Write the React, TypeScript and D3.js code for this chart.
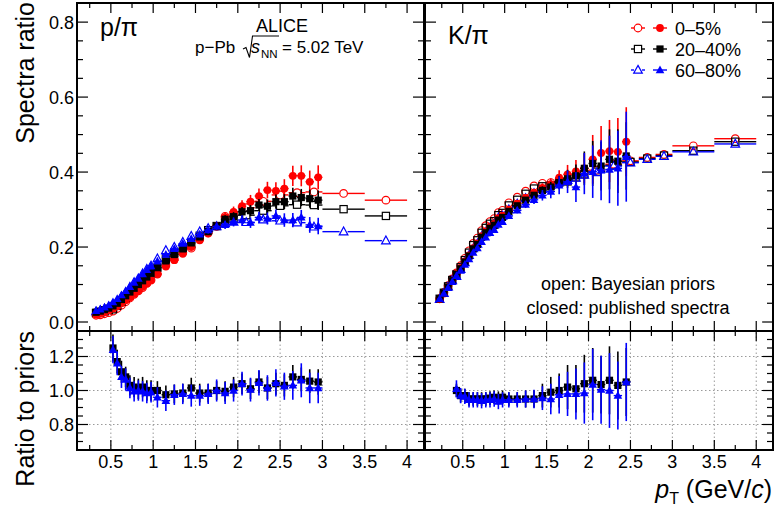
import React from "react";
import * as d3 from "d3";

const FONT = "'Liberation Sans', Arial, Helvetica, sans-serif";
const RED = "#ff0000";
const BLACK = "#000000";
const BLUE = "#0000ff";

// legend labels
const centralities = ["0–5%", "20–40%", "60–80%"];

// ---------------- p/pi ----------------
// published spectra binning (closed)
const ppiClosedEdges = [0.3, 0.35, 0.4, 0.45, 0.5, 0.55, 0.6, 0.65, 0.7, 0.75, 0.8, 0.85, 0.9, 0.95, 1.0,
  1.1, 1.2, 1.3, 1.4, 1.5, 1.6, 1.7, 1.8, 1.9, 2.0, 2.1, 2.2, 2.3, 2.4, 2.5, 2.6, 2.7, 2.8, 2.9, 3.0];
const ppiClosed0_5 = [0.020, 0.022, 0.026, 0.031, 0.036, 0.042, 0.050, 0.058, 0.066, 0.075, 0.084, 0.094, 0.103, 0.112,
  0.128, 0.148, 0.165, 0.182, 0.200, 0.218, 0.236, 0.256, 0.280, 0.294,
  0.309, 0.321, 0.336, 0.352, 0.350, 0.356, 0.390, 0.390, 0.374, 0.386];
const ppiClosed0_5Err = [0.004, 0.004, 0.004, 0.004, 0.004, 0.004, 0.004, 0.004, 0.004, 0.004, 0.004, 0.004, 0.004, 0.004,
  0.006, 0.006, 0.007, 0.007, 0.008, 0.009, 0.010, 0.011, 0.013, 0.014,
  0.016, 0.018, 0.020, 0.022, 0.023, 0.025, 0.027, 0.028, 0.030, 0.032];
const ppiClosed20_40 = [0.026, 0.029, 0.033, 0.037, 0.043, 0.050, 0.060, 0.070, 0.080, 0.090, 0.100, 0.110, 0.120, 0.130,
  0.145, 0.163, 0.180, 0.195, 0.211, 0.227, 0.241, 0.256, 0.274, 0.281,
  0.294, 0.297, 0.312, 0.309, 0.321, 0.321, 0.336, 0.332, 0.329, 0.325];
const ppiClosed20_40Err = [0.003, 0.003, 0.003, 0.003, 0.003, 0.003, 0.003, 0.003, 0.003, 0.003, 0.003, 0.003, 0.003, 0.003,
  0.005, 0.005, 0.006, 0.006, 0.007, 0.008, 0.009, 0.010, 0.011, 0.012,
  0.013, 0.015, 0.016, 0.018, 0.019, 0.020, 0.022, 0.023, 0.024, 0.026];
const ppiClosed60_80 = [0.030, 0.034, 0.039, 0.045, 0.053, 0.062, 0.072, 0.083, 0.094, 0.105, 0.116, 0.128, 0.139, 0.149,
  0.162, 0.180, 0.195, 0.209, 0.222, 0.234, 0.245, 0.255, 0.259, 0.267,
  0.272, 0.265, 0.279, 0.276, 0.283, 0.272, 0.272, 0.279, 0.259, 0.256];
const ppiClosed60_80Err = [0.003, 0.003, 0.003, 0.003, 0.003, 0.003, 0.003, 0.003, 0.003, 0.003, 0.003, 0.003, 0.003, 0.003,
  0.005, 0.005, 0.006, 0.006, 0.007, 0.008, 0.009, 0.010, 0.011, 0.012,
  0.013, 0.014, 0.015, 0.016, 0.017, 0.018, 0.019, 0.020, 0.021, 0.022];

// Bayesian priors binning (open)
const ppiOpenEdges = [0.3, 0.35, 0.4, 0.45, 0.5, 0.55, 0.6, 0.65, 0.7, 0.75, 0.8, 0.85, 0.9, 0.95, 1.0,
  1.1, 1.2, 1.3, 1.4, 1.5, 1.6, 1.7, 1.8, 1.9, 2.0, 2.2, 2.4, 2.6, 2.8, 3.0, 3.5, 4.0];
const ppiOpen0_5 = [0.018, 0.019, 0.022, 0.025, 0.029, 0.036, 0.045, 0.054, 0.064, 0.074, 0.083, 0.092, 0.103, 0.112,
  0.128, 0.152, 0.168, 0.185, 0.197, 0.221, 0.240, 0.255, 0.282, 0.290,
  0.305, 0.322, 0.339, 0.345, 0.347, 0.343, 0.325];
const ppiOpen20_40 = [0.024, 0.026, 0.029, 0.032, 0.034, 0.043, 0.054, 0.065, 0.078, 0.088, 0.099, 0.108, 0.120, 0.130,
  0.145, 0.167, 0.184, 0.198, 0.208, 0.230, 0.245, 0.256, 0.271, 0.275,
  0.285, 0.297, 0.310, 0.313, 0.312, 0.301, 0.283];
const ppiOpen60_80 = [0.028, 0.031, 0.035, 0.039, 0.043, 0.053, 0.067, 0.078, 0.093, 0.106, 0.116, 0.129, 0.141, 0.150,
  0.169, 0.191, 0.200, 0.213, 0.229, 0.241, 0.250, 0.255, 0.263, 0.267,
  0.266, 0.273, 0.270, 0.265, 0.254, 0.241, 0.217];

// ratio published / priors
const ppiRatioEdges = [0.5, 0.55, 0.6, 0.65, 0.7, 0.75, 0.8, 0.85, 0.9, 0.95, 1.0,
  1.1, 1.2, 1.3, 1.4, 1.5, 1.6, 1.7, 1.8, 1.9, 2.0, 2.1, 2.2, 2.3, 2.4, 2.5, 2.6, 2.7, 2.8, 2.9, 3.0];
const ppiRatio20_40 = [1.25, 1.17, 1.11, 1.08, 1.03, 1.02, 1.01, 1.02, 1.00, 1.00,
  1.00, 0.975, 0.98, 0.985, 1.015, 0.985, 0.985, 1.00, 0.995, 1.02,
  1.04, 1.01, 1.05, 1.015, 1.04, 1.03, 1.08, 1.065, 1.055, 1.05];
const ppiRatio20_40Err = [0.08, 0.07, 0.065, 0.06, 0.06, 0.06, 0.06, 0.06, 0.06, 0.06,
  0.055, 0.055, 0.055, 0.055, 0.06, 0.055, 0.055, 0.055, 0.06, 0.06,
  0.06, 0.06, 0.065, 0.065, 0.065, 0.065, 0.07, 0.07, 0.07, 0.075];
const ppiRatio60_80 = [1.24, 1.16, 1.08, 1.065, 1.015, 0.995, 1.00, 0.995, 0.985, 0.99,
  0.96, 0.94, 0.975, 0.98, 0.97, 0.97, 0.98, 1.00, 0.985, 1.00,
  1.04, 1.005, 1.045, 1.015, 1.045, 1.025, 1.03, 1.06, 1.015, 1.015];
const ppiRatio60_80Err = [0.08, 0.07, 0.065, 0.065, 0.06, 0.06, 0.06, 0.06, 0.06, 0.06,
  0.06, 0.06, 0.06, 0.06, 0.065, 0.06, 0.06, 0.065, 0.065, 0.065,
  0.07, 0.07, 0.075, 0.075, 0.08, 0.08, 0.085, 0.1, 0.09, 0.09];

// ---------------- K/pi ----------------
const kpiClosedEdges = [0.2, 0.25, 0.3, 0.35, 0.4, 0.45, 0.5, 0.55, 0.6, 0.65, 0.7, 0.75, 0.8, 0.85, 0.9, 0.95, 1.0,
  1.1, 1.2, 1.3, 1.4, 1.5, 1.6, 1.7, 1.8, 1.9, 2.0, 2.1, 2.2, 2.3, 2.4, 2.5];
const kpiClosed0_5 = [0.061, 0.076, 0.093, 0.110, 0.128, 0.144, 0.162, 0.178, 0.197, 0.210, 0.229, 0.241, 0.254, 0.262, 0.277, 0.284,
  0.300, 0.316, 0.331, 0.345, 0.358, 0.368, 0.385, 0.394, 0.402, 0.410, 0.434, 0.451, 0.456, 0.454, 0.481];
const kpiClosed0_5Err = [0.004, 0.004, 0.004, 0.004, 0.004, 0.004, 0.004, 0.004, 0.004, 0.004, 0.004, 0.004, 0.004, 0.004, 0.004, 0.004,
  0.007, 0.007, 0.007, 0.008, 0.012, 0.015, 0.02, 0.025, 0.03, 0.04, 0.065, 0.072, 0.083, 0.09, 0.092];
const kpiClosed20_40 = [0.062, 0.077, 0.093, 0.110, 0.127, 0.142, 0.160, 0.176, 0.195, 0.207, 0.226, 0.238, 0.250, 0.258, 0.272, 0.279,
  0.295, 0.310, 0.325, 0.338, 0.351, 0.360, 0.372, 0.382, 0.390, 0.410, 0.423, 0.416, 0.434, 0.429, 0.443];
const kpiClosed20_40Err = [0.003, 0.003, 0.003, 0.003, 0.003, 0.003, 0.003, 0.003, 0.003, 0.003, 0.003, 0.003, 0.003, 0.003, 0.003, 0.003,
  0.006, 0.006, 0.007, 0.008, 0.011, 0.014, 0.018, 0.024, 0.03, 0.045, 0.06, 0.065, 0.08, 0.085, 0.09];
const kpiClosed60_80 = [0.062, 0.076, 0.091, 0.107, 0.123, 0.137, 0.153, 0.168, 0.185, 0.197, 0.214, 0.226, 0.238, 0.246, 0.260, 0.267,
  0.283, 0.298, 0.313, 0.326, 0.338, 0.348, 0.365, 0.374, 0.360, 0.396, 0.401, 0.405, 0.407, 0.410, 0.441];
const kpiClosed60_80Err = [0.004, 0.004, 0.004, 0.004, 0.004, 0.004, 0.004, 0.004, 0.004, 0.004, 0.004, 0.004, 0.004, 0.004, 0.004, 0.004,
  0.007, 0.008, 0.009, 0.011, 0.014, 0.018, 0.024, 0.03, 0.04, 0.055, 0.07, 0.08, 0.09, 0.1, 0.12];

const kpiOpenEdges = [0.2, 0.25, 0.3, 0.35, 0.4, 0.45, 0.5, 0.55, 0.6, 0.65, 0.7, 0.75, 0.8, 0.85, 0.9, 0.95, 1.0,
  1.1, 1.2, 1.3, 1.4, 1.5, 1.6, 1.7, 1.8, 1.9, 2.0, 2.2, 2.4, 2.6, 2.8, 3.0, 3.5, 4.0];
const kpiOpen0_5 = [0.062, 0.079, 0.097, 0.115, 0.131, 0.150, 0.170, 0.190, 0.210, 0.224, 0.244, 0.257, 0.268, 0.276, 0.292, 0.298,
  0.318, 0.333, 0.349, 0.363, 0.370, 0.372, 0.380, 0.382, 0.392, 0.400,
  0.405, 0.421, 0.430, 0.439, 0.447, 0.470, 0.489];
const kpiOpen20_40 = [0.062, 0.078, 0.095, 0.112, 0.127, 0.146, 0.165, 0.185, 0.205, 0.218, 0.238, 0.251, 0.262, 0.269, 0.285, 0.291,
  0.311, 0.326, 0.342, 0.356, 0.362, 0.364, 0.372, 0.375, 0.386, 0.394,
  0.401, 0.418, 0.427, 0.436, 0.444, 0.457, 0.481];
const kpiOpen60_80 = [0.061, 0.077, 0.094, 0.111, 0.122, 0.141, 0.159, 0.178, 0.196, 0.208, 0.228, 0.239, 0.252, 0.259, 0.278, 0.283,
  0.300, 0.315, 0.330, 0.343, 0.354, 0.366, 0.372, 0.378, 0.384, 0.392,
  0.399, 0.416, 0.425, 0.434, 0.442, 0.454, 0.475];

const kpiRatioEdges = [0.4, 0.45, 0.5, 0.55, 0.6, 0.65, 0.7, 0.75, 0.8, 0.85, 0.9, 0.95, 1.0,
  1.1, 1.2, 1.3, 1.4, 1.5, 1.6, 1.7, 1.8, 1.9, 2.0, 2.1, 2.2, 2.3, 2.4, 2.5];
const kpiRatio20_40 = [1.00, 0.97, 0.97, 0.95, 0.95, 0.95, 0.95, 0.95, 0.955, 0.96, 0.955, 0.96,
  0.95, 0.95, 0.95, 0.95, 0.97, 0.99, 1.00, 1.02, 1.01, 1.04, 1.06, 1.035, 1.06, 1.03, 1.05];
const kpiRatio20_40Err = [0.04, 0.04, 0.04, 0.04, 0.04, 0.04, 0.04, 0.04, 0.04, 0.04, 0.04, 0.04,
  0.04, 0.04, 0.05, 0.05, 0.07, 0.09, 0.1, 0.13, 0.14, 0.17, 0.19, 0.17, 0.2, 0.2, 0.2];
const kpiRatio60_80 = [1.01, 0.97, 0.965, 0.945, 0.945, 0.945, 0.94, 0.945, 0.945, 0.95, 0.935, 0.945,
  0.945, 0.945, 0.95, 0.95, 0.955, 0.95, 0.975, 0.98, 0.98, 0.985, 1.035, 1.005, 1.00, 0.97, 1.05];
const kpiRatio60_80Err = [0.05, 0.045, 0.045, 0.045, 0.045, 0.045, 0.045, 0.045, 0.045, 0.045, 0.045, 0.045,
  0.045, 0.045, 0.05, 0.055, 0.07, 0.09, 0.11, 0.13, 0.15, 0.18, 0.21, 0.2, 0.22, 0.2, 0.23];

// ---------------- helpers ----------------
type Shape = "circle" | "square" | "triangle";
type Series = { edges: number[]; val: number[]; err?: number[]; color: string; shape: Shape; open: boolean };

const mid = (e: number[]) => e.slice(0, -1).map((v, i) => (v + e[i + 1]) / 2);
const half = (e: number[]) => e.slice(0, -1).map((v, i) => (e[i + 1] - v) / 2);

const styles: { color: string; shape: Shape }[] = [
  { color: RED, shape: "circle" },
  { color: BLACK, shape: "square" },
  { color: BLUE, shape: "triangle" },
];

const Marker = ({ cx, cy, shape, open, color }: { cx: number; cy: number; shape: Shape; open: boolean; color: string }) => {
  const fill = open ? "none" : color;
  const sw = open ? 1.2 : 0;
  if (shape === "circle") return <circle cx={cx} cy={cy} r={open ? 3.8 : 3.9} fill={fill} stroke={color} strokeWidth={sw} />;
  if (shape === "square") return <rect x={cx - 3.6} y={cy - 3.6} width={7.2} height={7.2} fill={fill} stroke={color} strokeWidth={sw} />;
  return <path d={`M${cx},${cy - 4.6}L${cx + 4.3},${cy + 3.2}L${cx - 4.3},${cy + 3.2}Z`} fill={fill} stroke={color} strokeWidth={sw} />;
};

const Points = ({ s, x, y }: { s: Series; x: d3.ScaleLinear<number, number>; y: d3.ScaleLinear<number, number> }) => {
  const c = mid(s.edges);
  const h = half(s.edges);
  const gap = s.open ? 4 : 0;
  return (
    <g>
      {s.val.map((v, i) => {
        const cx = x(c[i]);
        const cy = y(v);
        const x0 = x(c[i] - h[i]);
        const x1 = x(c[i] + h[i]);
        return (
          <g key={i}>
            {s.err && (
              <line x1={cx} x2={cx} y1={y(v - s.err[i])} y2={y(v + s.err[i])} stroke={s.color} strokeWidth={1.6} />
            )}
            {cx - x0 > gap + 0.5 && <line x1={x0} x2={cx - gap} y1={cy} y2={cy} stroke={s.color} strokeWidth={1.4} />}
            {x1 - cx > gap + 0.5 && <line x1={cx + gap} x2={x1} y1={cy} y2={cy} stroke={s.color} strokeWidth={1.4} />}
            <Marker cx={cx} cy={cy} shape={s.shape} open={s.open} color={s.color} />
          </g>
        );
      })}
    </g>
  );
};

const rangeStep = (a: number, b: number, step: number) => {
  const n = Math.round((b - a) / step);
  return d3.range(n + 1).map((i) => +(a + i * step).toFixed(4));
};

const Frame = ({ x, y, xMaj, xMin, yMaj, yMin, grid }: {
  x: d3.ScaleLinear<number, number>; y: d3.ScaleLinear<number, number>;
  xMaj: number[]; xMin: number[]; yMaj: number[]; yMin: number[]; grid?: boolean;
}) => {
  const [X0, X1] = x.range();
  const [Y0, Y1] = y.range(); // Y0 bottom, Y1 top
  const lines: JSX.Element[] = [];
  xMin.forEach((v, i) => {
    const px = x(v);
    const L = xMaj.includes(v) ? 10 : 5;
    lines.push(<line key={`xb${i}`} x1={px} x2={px} y1={Y0} y2={Y0 - L} />);
    lines.push(<line key={`xt${i}`} x1={px} x2={px} y1={Y1} y2={Y1 + L} />);
  });
  yMin.forEach((v, i) => {
    const py = y(v);
    const L = yMaj.includes(v) ? 11 : 6;
    lines.push(<line key={`yl${i}`} x1={X0} x2={X0 + L} y1={py} y2={py} />);
    lines.push(<line key={`yr${i}`} x1={X1} x2={X1 - L} y1={py} y2={py} />);
  });
  return (
    <g>
      {grid && (
        <g stroke="#9a9a9a" strokeWidth={1} strokeDasharray="1.5,2.5">
          {xMaj.map((v) => <line key={`gx${v}`} x1={x(v)} x2={x(v)} y1={Y0} y2={Y1} />)}
          {yMaj.map((v) => <line key={`gy${v}`} x1={X0} x2={X1} y1={y(v)} y2={y(v)} />)}
        </g>
      )}
      <g stroke="#000" strokeWidth={1.2}>{lines}</g>
      <rect x={X0} y={Y1} width={X1 - X0} height={Y0 - Y1} fill="none" stroke="#000" strokeWidth={2} />
    </g>
  );
};

export default function App() {
  const xL = d3.scaleLinear().domain([0.1, 4.2]).range([77, 424]);
  const xR = d3.scaleLinear().domain([0.05, 4.2]).range([425, 773]);
  const yTop = d3.scaleLinear().domain([-0.024, 0.851]).range([331, 3]);
  const yBot = d3.scaleLinear().domain([0.65, 1.35]).range([450, 331]);

  const xMaj = rangeStep(0.5, 4, 0.5);
  const xMin = rangeStep(0.25, 4, 0.25);
  const yMajTop = rangeStep(0, 0.8, 0.2);
  const yMinTop = rangeStep(0, 0.85, 0.05);
  const yMajBot = [0.8, 1.0, 1.2];
  const yMinBot = rangeStep(0.65, 1.35, 0.05);

  const ppiOpen = [ppiOpen0_5, ppiOpen20_40, ppiOpen60_80];
  const ppiClosed = [ppiClosed0_5, ppiClosed20_40, ppiClosed60_80];
  const ppiClosedErr = [ppiClosed0_5Err, ppiClosed20_40Err, ppiClosed60_80Err];
  const kpiOpen = [kpiOpen0_5, kpiOpen20_40, kpiOpen60_80];
  const kpiClosed = [kpiClosed0_5, kpiClosed20_40, kpiClosed60_80];
  const kpiClosedErr = [kpiClosed0_5Err, kpiClosed20_40Err, kpiClosed60_80Err];

  const topSeries = (openV: number[][], closedV: number[][], closedE: number[][], eo: number[], ec: number[]) => {
    const out: Series[] = [];
    styles.forEach((st, i) => out.push({ edges: eo, val: openV[i], color: st.color, shape: st.shape, open: true }));
    styles.forEach((st, i) => out.push({ edges: ec, val: closedV[i], err: closedE[i], color: st.color, shape: st.shape, open: false }));
    return out;
  };
  const ppiTop = topSeries(ppiOpen, ppiClosed, ppiClosedErr, ppiOpenEdges, ppiClosedEdges);
  const kpiTop = topSeries(kpiOpen, kpiClosed, kpiClosedErr, kpiOpenEdges, kpiClosedEdges);

  const ppiBot: Series[] = [
    { edges: ppiRatioEdges, val: ppiRatio20_40, err: ppiRatio20_40Err, color: BLACK, shape: "square", open: false },
    { edges: ppiRatioEdges, val: ppiRatio60_80, err: ppiRatio60_80Err, color: BLUE, shape: "triangle", open: false },
  ];
  const kpiBot: Series[] = [
    { edges: kpiRatioEdges, val: kpiRatio20_40, err: kpiRatio20_40Err, color: BLACK, shape: "square", open: false },
    { edges: kpiRatioEdges, val: kpiRatio60_80, err: kpiRatio60_80Err, color: BLUE, shape: "triangle", open: false },
  ];

  const legendY = [28, 49, 70];

  return (
    <svg width={774} height={515} style={{ position: "absolute", left: 0, top: 0, background: "#fff" }} fontFamily={FONT}>
      <defs>
        <clipPath id="cl-bl"><rect x={77} y={331} width={347} height={119} /></clipPath>
        <clipPath id="cl-br"><rect x={425} y={331} width={348} height={119} /></clipPath>
      </defs>
      <rect width={774} height={515} fill="#fff" />

      {/* top panels */}
      <Frame x={xL} y={yTop} xMaj={xMaj} xMin={xMin} yMaj={yMajTop} yMin={yMinTop} />
      <Frame x={xR} y={yTop} xMaj={xMaj} xMin={xMin} yMaj={yMajTop} yMin={yMinTop} />
      {ppiTop.map((s, i) => <Points key={`pt${i}`} s={s} x={xL} y={yTop} />)}
      {kpiTop.map((s, i) => <Points key={`kt${i}`} s={s} x={xR} y={yTop} />)}

      {/* bottom panels */}
      <Frame x={xL} y={yBot} xMaj={xMaj} xMin={xMin} yMaj={yMajBot} yMin={yMinBot} grid />
      <Frame x={xR} y={yBot} xMaj={xMaj} xMin={xMin} yMaj={yMajBot} yMin={yMinBot} grid />
      <g clipPath="url(#cl-bl)">{ppiBot.map((s, i) => <Points key={`pb${i}`} s={s} x={xL} y={yBot} />)}</g>
      <g clipPath="url(#cl-br)">{kpiBot.map((s, i) => <Points key={`kb${i}`} s={s} x={xR} y={yBot} />)}</g>

      {/* axis labels */}
      <g fontSize={18} fill="#000">
        {yMajTop.map((v) => (
          <text key={`yt${v}`} x={74} y={yTop(v) + 6.5} textAnchor="end">{v.toFixed(1)}</text>
        ))}
        {yMajBot.map((v) => (
          <text key={`yb${v}`} x={74} y={yBot(v) + 6.5} textAnchor="end">{v.toFixed(1)}</text>
        ))}
        {xMaj.map((v) => (
          <text key={`xl${v}`} x={xL(v)} y={468} textAnchor="middle">{String(v)}</text>
        ))}
        {xMaj.map((v) => (
          <text key={`xr${v}`} x={xR(v)} y={468} textAnchor="middle">{String(v)}</text>
        ))}
      </g>

      <text transform="translate(34,2) rotate(-90)" textAnchor="end" fontSize={25}>Spectra ratio</text>
      <text transform="translate(34,331) rotate(-90)" textAnchor="end" fontSize={25}>Ratio to priors</text>
      <text x={772} y={498} textAnchor="end" fontSize={25}>
        <tspan fontStyle="italic">p</tspan>
        <tspan fontSize={16} dy={6}>T</tspan>
        <tspan dy={-6}>{" (GeV/"}</tspan>
        <tspan fontStyle="italic">c</tspan>
        <tspan>)</tspan>
      </text>

      {/* panel labels */}
      <text x={100} y={36} fontSize={25}>p/π</text>
      <text x={448} y={44} fontSize={25}>K/π</text>

      <text x={282} y={32} fontSize={18} textAnchor="middle">ALICE</text>
      <g fontSize={17}>
        <text x={195} y={53}>p−Pb</text>
        <path d="M243,49 L246,47.5 L249.5,57.5 L252.5,36 L279,36" fill="none" stroke="#000" strokeWidth={1.1} />
        <text x={251} y={53} fontStyle="italic" fontSize={18}>s</text>
        <text x={261} y={58} fontSize={11.5}>NN</text>
        <text x={282} y={53}>= 5.02 TeV</text>
      </g>

      {/* legend */}
      {styles.map((st, i) => (
        <g key={`lg${i}`}>
          <line x1={631} x2={634} y1={legendY[i]} y2={legendY[i]} stroke={st.color} strokeWidth={1.4} />
          <line x1={642} x2={645} y1={legendY[i]} y2={legendY[i]} stroke={st.color} strokeWidth={1.4} />
          <Marker cx={638} cy={legendY[i]} shape={st.shape} open={true} color={st.color} />
          <line x1={653} x2={667} y1={legendY[i]} y2={legendY[i]} stroke={st.color} strokeWidth={1.4} />
          <Marker cx={660} cy={legendY[i]} shape={st.shape} open={false} color={st.color} />
          <text x={675} y={legendY[i] + 6.5} fontSize={18}>{centralities[i]}</text>
        </g>
      ))}

      <text x={628} y={290} fontSize={18} textAnchor="middle">open: Bayesian priors</text>
      <text x={628} y={314} fontSize={18} textAnchor="middle">closed: published spectra</text>
    </svg>
  );
}
